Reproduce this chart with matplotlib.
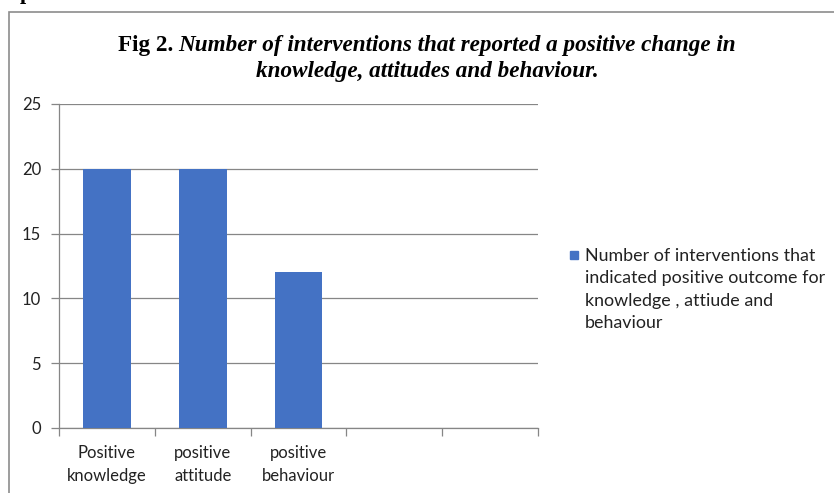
import matplotlib
matplotlib.use("Agg")
import matplotlib.pyplot as plt
from matplotlib.patches import Rectangle

categories = ["Positive\nknowledge", "positive\nattitude", "positive\nbehaviour"]
values = [20, 20, 12]
n_slots = 5
y_ticks = [0, 5, 10, 15, 20, 25]
legend_label = "Number of interventions that\nindicated positive outcome for\nknowledge , attiude and\nbehaviour"

bar_color = "#4472C4"
grid_color = "#868686"
W, H = 834, 493

fig = plt.figure(figsize=(W / 100, H / 100), dpi=100)
ax = fig.add_axes([59 / W, (H - 428) / H, (538 - 59) / W, (428 - 104) / H])

ax.bar(range(len(values)), values, width=0.5, color=bar_color, zorder=3)
ax.set_xlim(-0.5, n_slots - 0.5)
ax.set_ylim(0, 25)

ax.set_yticks(y_ticks)
ax.yaxis.grid(True, color=grid_color, linewidth=0.9)
ax.set_axisbelow(True)

ax.set_xticks([i - 0.5 for i in range(n_slots + 1)])
ax.set_xticklabels([])
ax.set_xticks(range(len(categories)), minor=True)
ax.set_xticklabels(categories, minor=True)

tick_font = "Lato"
for lab in ax.get_xticklabels(minor=True) + ax.get_yticklabels():
    lab.set_fontfamily(tick_font)
    lab.set_fontsize(12)
    lab.set_color("#222222")
    lab.set_linespacing(1.6)
ax.tick_params(axis="x", which="major", length=6, color=grid_color, width=0.9)
ax.tick_params(axis="x", which="minor", length=0, pad=12)
ax.tick_params(axis="y", length=6, color=grid_color, width=0.9, pad=7)

for s in ["top", "right"]:
    ax.spines[s].set_visible(False)
for s in ["left", "bottom"]:
    ax.spines[s].set_color(grid_color)
    ax.spines[s].set_linewidth(0.9)

# chart frame (only top and left edges visible in the crop)
fig.patches.append(Rectangle((9 / W, -0.1), 1.2, (H - 12.5) / H + 0.1,
                             transform=fig.transFigure, fill=False,
                             edgecolor="#8c8c8c", linewidth=1.2))

# cut-off glyph from the page above
fig.text(26 / W, 1 + 1 / H, "p", fontfamily="Liberation Serif", fontweight="bold",
         fontsize=16, ha="center", va="baseline")

# title, mixed upright / italic
title_font = dict(fontfamily="Liberation Serif", fontweight="bold", fontsize=16.7)
cx = 427 / W
renderer = fig.canvas.get_renderer()
t1 = fig.text(0, (H - 45) / H, "Fig 2. ", va="center", ha="left", **title_font)
t2 = fig.text(0, (H - 45) / H, "Number of interventions that reported a positive change in",
              va="center", ha="left", style="italic", **title_font)
w1 = t1.get_window_extent(renderer).width
w2 = t2.get_window_extent(renderer).width
x0 = cx * W - (w1 + w2) / 2
t1.set_x(x0 / W)
t2.set_x((x0 + w1) / W)
fig.text(cx, (H - 72) / H, "knowledge, attitudes and behaviour.", va="center", ha="center",
         style="italic", **title_font)

# legend
fig.patches.append(Rectangle((570 / W, (H - 259) / H), 8 / W, 8 / H,
                             transform=fig.transFigure, color=bar_color))
fig.text(585 / W, (H - 248) / H, legend_label, fontfamily=tick_font, fontsize=12.85,
         va="top", ha="left", linespacing=1.5, color="#222222")

fig.savefig("out.png", dpi=100)
